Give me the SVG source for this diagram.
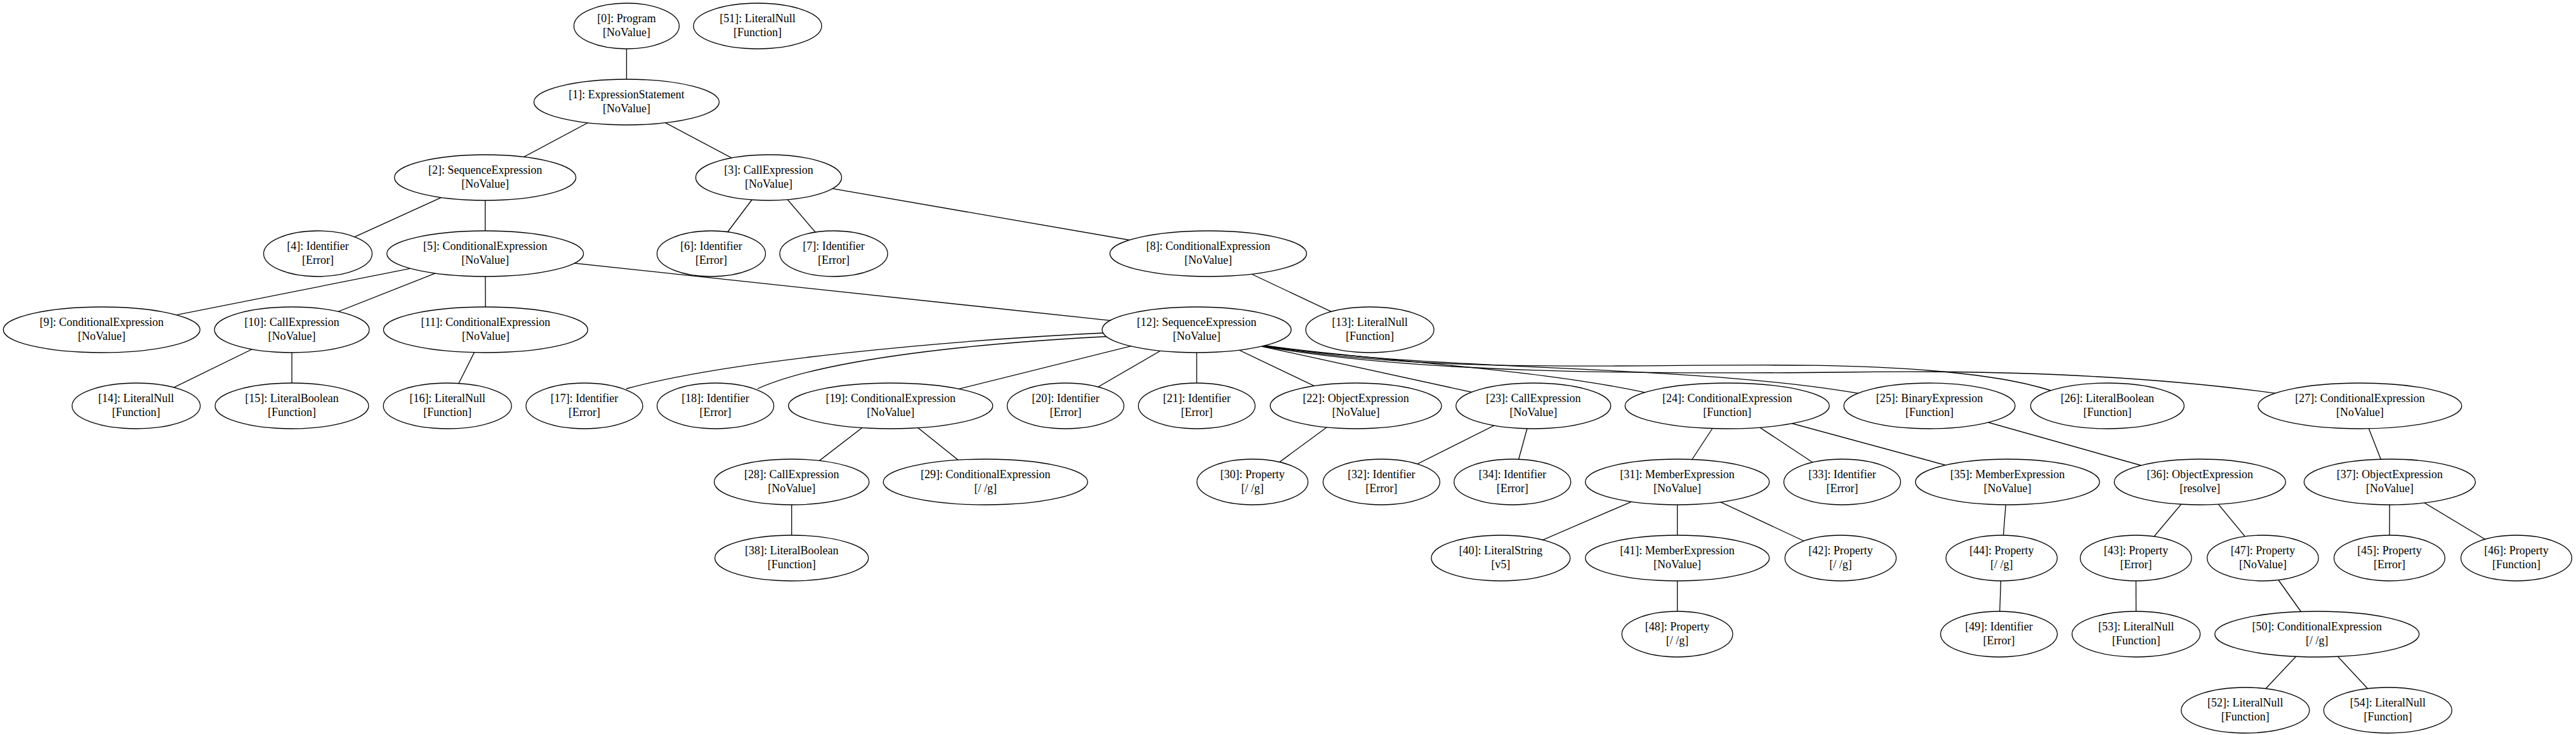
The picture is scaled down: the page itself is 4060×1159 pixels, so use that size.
<svg xmlns="http://www.w3.org/2000/svg" width="4060" height="1159" viewBox="0 0 4060 1159">
<style>
.n ellipse{fill:#fff;stroke:#000;stroke-width:1.3}
.n text{font-family:"Liberation Serif","Times New Roman",serif;font-size:18px;text-anchor:middle;fill:#000}
#edges path{fill:none;stroke:#000;stroke-width:1.3}
</style>
<rect width="4060" height="1159" fill="#fff"/>
<g id="edges">
<path d="M987.5,41 L987.5,161"/>
<path d="M987.5,161 L764.7,280"/>
<path d="M987.5,161 L1211.5,280"/>
<path d="M764.7,280 L501,400"/>
<path d="M764.7,280 L764.7,400"/>
<path d="M1211.5,280 L1121,400"/>
<path d="M1211.5,280 L1314,400"/>
<path d="M1211.5,280 L1904.3,400"/>
<path d="M764.7,400 L160.2,520"/>
<path d="M764.7,400 L460,520"/>
<path d="M764.7,400 L765.4,520"/>
<path d="M764.7,400 L1886,520"/>
<path d="M1904.3,400 L2159,520"/>
<path d="M460,520 L214.6,640"/>
<path d="M460,520 L460,640"/>
<path d="M765.4,520 L705.2,640"/>
<path d="M1760,524 C1500,536 1150,568 987,613"/>
<path d="M1760,530 C1550,540 1300,565 1194,613"/>
<path d="M1886,520 L1403.7,640"/>
<path d="M1886,520 L1679.4,640"/>
<path d="M1886,520 L1886.2,640"/>
<path d="M1886,520 L2137,640"/>
<path d="M1960,540 L2350,625"/>
<path d="M1960,540 C2150,570 2450,580 2640,630"/>
<path d="M1960,540 C2250,590 2700,570 2980,630"/>
<path d="M1960,540 C2150,575 2350,578 2550,577 C2750,576 2900,572 3050,585 C3140,593 3200,603 3260,625"/>
<path d="M1960,540 C2200,590 2600,590 2900,587 C3150,583 3400,592 3620,625"/>
<path d="M1403.7,640 L1247.7,760"/>
<path d="M1403.7,640 L1553.2,760"/>
<path d="M2137,640 L1974,760"/>
<path d="M2416.7,640 L2177.3,760"/>
<path d="M2416.7,640 L2383.7,760"/>
<path d="M2722.2,640 L2643.6,760"/>
<path d="M2722.2,640 L2903.5,760"/>
<path d="M2722.2,640 L3164,760"/>
<path d="M3041,640 L3467.3,760"/>
<path d="M3719.4,640 L3766.4,760"/>
<path d="M1247.7,760 L1247.7,880"/>
<path d="M2643.6,760 L2365.3,880"/>
<path d="M2643.6,760 L2643.6,880"/>
<path d="M2643.6,760 L2900.9,880"/>
<path d="M3164,760 L3154.7,880"/>
<path d="M3467.3,760 L3366.4,880"/>
<path d="M3467.3,760 L3566.4,880"/>
<path d="M3766.4,760 L3766,880"/>
<path d="M3766.4,760 L3966,880"/>
<path d="M2643.6,880 L2643.6,1000"/>
<path d="M3154.7,880 L3150.5,1000"/>
<path d="M3366.4,880 L3366.7,1000"/>
<path d="M3566.4,880 L3651.8,1000"/>
<path d="M3651.8,1000 L3538.8,1120"/>
<path d="M3651.8,1000 L3763.4,1120"/>
</g>
<g id="node0" class="n"><ellipse cx="987.5" cy="41" rx="83" ry="36"/><text x="987.5" y="35">[0]: Program</text><text x="987.5" y="57">[NoValue]</text></g>
<g id="node51" class="n"><ellipse cx="1194" cy="41" rx="101" ry="36"/><text x="1194" y="35">[51]: LiteralNull</text><text x="1194" y="57">[Function]</text></g>
<g id="node1" class="n"><ellipse cx="987.5" cy="161" rx="146" ry="36"/><text x="987.5" y="155">[1]: ExpressionStatement</text><text x="987.5" y="177">[NoValue]</text></g>
<g id="node2" class="n"><ellipse cx="764.7" cy="280" rx="143" ry="36"/><text x="764.7" y="274">[2]: SequenceExpression</text><text x="764.7" y="296">[NoValue]</text></g>
<g id="node3" class="n"><ellipse cx="1211.5" cy="280" rx="115" ry="36"/><text x="1211.5" y="274">[3]: CallExpression</text><text x="1211.5" y="296">[NoValue]</text></g>
<g id="node4" class="n"><ellipse cx="501" cy="400" rx="85.5" ry="36"/><text x="501" y="394">[4]: Identifier</text><text x="501" y="416">[Error]</text></g>
<g id="node5" class="n"><ellipse cx="764.7" cy="400" rx="155" ry="36"/><text x="764.7" y="394">[5]: ConditionalExpression</text><text x="764.7" y="416">[NoValue]</text></g>
<g id="node6" class="n"><ellipse cx="1121" cy="400" rx="85.5" ry="36"/><text x="1121" y="394">[6]: Identifier</text><text x="1121" y="416">[Error]</text></g>
<g id="node7" class="n"><ellipse cx="1314" cy="400" rx="85" ry="36"/><text x="1314" y="394">[7]: Identifier</text><text x="1314" y="416">[Error]</text></g>
<g id="node8" class="n"><ellipse cx="1904.3" cy="400" rx="155" ry="36"/><text x="1904.3" y="394">[8]: ConditionalExpression</text><text x="1904.3" y="416">[NoValue]</text></g>
<g id="node9" class="n"><ellipse cx="160.2" cy="520" rx="155" ry="36"/><text x="160.2" y="514">[9]: ConditionalExpression</text><text x="160.2" y="536">[NoValue]</text></g>
<g id="node10" class="n"><ellipse cx="460" cy="520" rx="122" ry="36"/><text x="460" y="514">[10]: CallExpression</text><text x="460" y="536">[NoValue]</text></g>
<g id="node11" class="n"><ellipse cx="765.4" cy="520" rx="161" ry="36"/><text x="765.4" y="514">[11]: ConditionalExpression</text><text x="765.4" y="536">[NoValue]</text></g>
<g id="node12" class="n"><ellipse cx="1886" cy="520" rx="149" ry="36"/><text x="1886" y="514">[12]: SequenceExpression</text><text x="1886" y="536">[NoValue]</text></g>
<g id="node13" class="n"><ellipse cx="2159" cy="520" rx="101" ry="36"/><text x="2159" y="514">[13]: LiteralNull</text><text x="2159" y="536">[Function]</text></g>
<g id="node14" class="n"><ellipse cx="214.6" cy="640" rx="101" ry="36"/><text x="214.6" y="634">[14]: LiteralNull</text><text x="214.6" y="656">[Function]</text></g>
<g id="node15" class="n"><ellipse cx="460" cy="640" rx="121" ry="36"/><text x="460" y="634">[15]: LiteralBoolean</text><text x="460" y="656">[Function]</text></g>
<g id="node16" class="n"><ellipse cx="705.2" cy="640" rx="101" ry="36"/><text x="705.2" y="634">[16]: LiteralNull</text><text x="705.2" y="656">[Function]</text></g>
<g id="node17" class="n"><ellipse cx="921" cy="640" rx="92" ry="36"/><text x="921" y="634">[17]: Identifier</text><text x="921" y="656">[Error]</text></g>
<g id="node18" class="n"><ellipse cx="1127.6" cy="640" rx="92" ry="36"/><text x="1127.6" y="634">[18]: Identifier</text><text x="1127.6" y="656">[Error]</text></g>
<g id="node19" class="n"><ellipse cx="1403.7" cy="640" rx="161" ry="36"/><text x="1403.7" y="634">[19]: ConditionalExpression</text><text x="1403.7" y="656">[NoValue]</text></g>
<g id="node20" class="n"><ellipse cx="1679.4" cy="640" rx="92" ry="36"/><text x="1679.4" y="634">[20]: Identifier</text><text x="1679.4" y="656">[Error]</text></g>
<g id="node21" class="n"><ellipse cx="1886.2" cy="640" rx="92" ry="36"/><text x="1886.2" y="634">[21]: Identifier</text><text x="1886.2" y="656">[Error]</text></g>
<g id="node22" class="n"><ellipse cx="2137" cy="640" rx="135" ry="36"/><text x="2137" y="634">[22]: ObjectExpression</text><text x="2137" y="656">[NoValue]</text></g>
<g id="node23" class="n"><ellipse cx="2416.7" cy="640" rx="122" ry="36"/><text x="2416.7" y="634">[23]: CallExpression</text><text x="2416.7" y="656">[NoValue]</text></g>
<g id="node24" class="n"><ellipse cx="2722.2" cy="640" rx="161" ry="36"/><text x="2722.2" y="634">[24]: ConditionalExpression</text><text x="2722.2" y="656">[Function]</text></g>
<g id="node25" class="n"><ellipse cx="3041" cy="640" rx="135" ry="36"/><text x="3041" y="634">[25]: BinaryExpression</text><text x="3041" y="656">[Function]</text></g>
<g id="node26" class="n"><ellipse cx="3321.4" cy="640" rx="121" ry="36"/><text x="3321.4" y="634">[26]: LiteralBoolean</text><text x="3321.4" y="656">[Function]</text></g>
<g id="node27" class="n"><ellipse cx="3719.4" cy="640" rx="160.5" ry="36"/><text x="3719.4" y="634">[27]: ConditionalExpression</text><text x="3719.4" y="656">[NoValue]</text></g>
<g id="node28" class="n"><ellipse cx="1247.7" cy="760" rx="122" ry="36"/><text x="1247.7" y="754">[28]: CallExpression</text><text x="1247.7" y="776">[NoValue]</text></g>
<g id="node29" class="n"><ellipse cx="1553.2" cy="760" rx="161" ry="36"/><text x="1553.2" y="754">[29]: ConditionalExpression</text><text x="1553.2" y="776">[/ /g]</text></g>
<g id="node30" class="n"><ellipse cx="1974" cy="760" rx="87.5" ry="36"/><text x="1974" y="754">[30]: Property</text><text x="1974" y="776">[/ /g]</text></g>
<g id="node32" class="n"><ellipse cx="2177.3" cy="760" rx="92" ry="36"/><text x="2177.3" y="754">[32]: Identifier</text><text x="2177.3" y="776">[Error]</text></g>
<g id="node34" class="n"><ellipse cx="2383.7" cy="760" rx="92" ry="36"/><text x="2383.7" y="754">[34]: Identifier</text><text x="2383.7" y="776">[Error]</text></g>
<g id="node31" class="n"><ellipse cx="2643.6" cy="760" rx="145" ry="36"/><text x="2643.6" y="754">[31]: MemberExpression</text><text x="2643.6" y="776">[NoValue]</text></g>
<g id="node33" class="n"><ellipse cx="2903.5" cy="760" rx="92" ry="36"/><text x="2903.5" y="754">[33]: Identifier</text><text x="2903.5" y="776">[Error]</text></g>
<g id="node35" class="n"><ellipse cx="3164" cy="760" rx="145" ry="36"/><text x="3164" y="754">[35]: MemberExpression</text><text x="3164" y="776">[NoValue]</text></g>
<g id="node36" class="n"><ellipse cx="3467.3" cy="760" rx="135" ry="36"/><text x="3467.3" y="754">[36]: ObjectExpression</text><text x="3467.3" y="776">[resolve]</text></g>
<g id="node37" class="n"><ellipse cx="3766.4" cy="760" rx="135" ry="36"/><text x="3766.4" y="754">[37]: ObjectExpression</text><text x="3766.4" y="776">[NoValue]</text></g>
<g id="node38" class="n"><ellipse cx="1247.7" cy="880" rx="121" ry="36"/><text x="1247.7" y="874">[38]: LiteralBoolean</text><text x="1247.7" y="896">[Function]</text></g>
<g id="node40" class="n"><ellipse cx="2365.3" cy="880" rx="109.4" ry="36"/><text x="2365.3" y="874">[40]: LiteralString</text><text x="2365.3" y="896">[v5]</text></g>
<g id="node41" class="n"><ellipse cx="2643.6" cy="880" rx="145" ry="36"/><text x="2643.6" y="874">[41]: MemberExpression</text><text x="2643.6" y="896">[NoValue]</text></g>
<g id="node42" class="n"><ellipse cx="2900.9" cy="880" rx="87.7" ry="36"/><text x="2900.9" y="874">[42]: Property</text><text x="2900.9" y="896">[/ /g]</text></g>
<g id="node44" class="n"><ellipse cx="3154.7" cy="880" rx="87.7" ry="36"/><text x="3154.7" y="874">[44]: Property</text><text x="3154.7" y="896">[/ /g]</text></g>
<g id="node43" class="n"><ellipse cx="3366.4" cy="880" rx="87.7" ry="36"/><text x="3366.4" y="874">[43]: Property</text><text x="3366.4" y="896">[Error]</text></g>
<g id="node47" class="n"><ellipse cx="3566.4" cy="880" rx="87.7" ry="36"/><text x="3566.4" y="874">[47]: Property</text><text x="3566.4" y="896">[NoValue]</text></g>
<g id="node45" class="n"><ellipse cx="3766" cy="880" rx="87.4" ry="36"/><text x="3766" y="874">[45]: Property</text><text x="3766" y="896">[Error]</text></g>
<g id="node46" class="n"><ellipse cx="3966" cy="880" rx="87.4" ry="36"/><text x="3966" y="874">[46]: Property</text><text x="3966" y="896">[Function]</text></g>
<g id="node48" class="n"><ellipse cx="2643.6" cy="1000" rx="87.4" ry="36"/><text x="2643.6" y="994">[48]: Property</text><text x="2643.6" y="1016">[/ /g]</text></g>
<g id="node49" class="n"><ellipse cx="3150.5" cy="1000" rx="92" ry="36"/><text x="3150.5" y="994">[49]: Identifier</text><text x="3150.5" y="1016">[Error]</text></g>
<g id="node53" class="n"><ellipse cx="3366.7" cy="1000" rx="101" ry="36"/><text x="3366.7" y="994">[53]: LiteralNull</text><text x="3366.7" y="1016">[Function]</text></g>
<g id="node50" class="n"><ellipse cx="3651.8" cy="1000" rx="161" ry="36"/><text x="3651.8" y="994">[50]: ConditionalExpression</text><text x="3651.8" y="1016">[/ /g]</text></g>
<g id="node52" class="n"><ellipse cx="3538.8" cy="1120" rx="101" ry="36"/><text x="3538.8" y="1114">[52]: LiteralNull</text><text x="3538.8" y="1136">[Function]</text></g>
<g id="node54" class="n"><ellipse cx="3763.4" cy="1120" rx="101" ry="36"/><text x="3763.4" y="1114">[54]: LiteralNull</text><text x="3763.4" y="1136">[Function]</text></g>
</svg>
